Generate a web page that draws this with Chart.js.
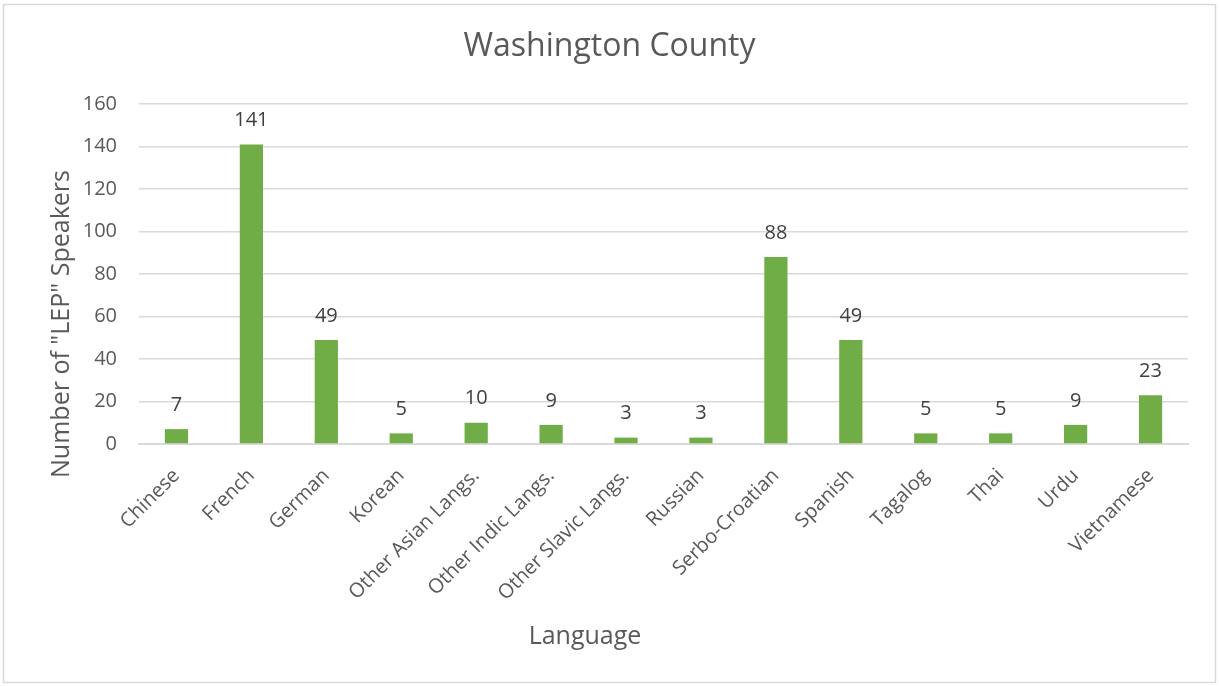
<!DOCTYPE html>
<html>
<head>
<meta charset="utf-8">
<title>Washington County</title>
<script src="https://cdn.jsdelivr.net/npm/chart.js@4"></script>
<style>
  html, body { margin: 0; padding: 0; background: #fff; }
  #wrap { width: 1219px; height: 686px; position: relative; }
</style>
</head>
<body>
<div id="wrap"><canvas id="chart" width="1219" height="686"></canvas></div>
<script>
const languages = ["Chinese", "French", "German", "Korean", "Other Asian Langs.", "Other Indic Langs.",
    "Other Slavic Langs.", "Russian", "Serbo-Croatian", "Spanish", "Tagalog", "Thai", "Urdu", "Vietnamese"];
const speakers = [7, 141, 49, 5, 10, 9, 3, 3, 88, 49, 5, 5, 9, 23];
const yTicks = [0, 20, 40, 60, 80, 100, 120, 140, 160];
const chartTitle = "Washington County";
const xTitle = "Language";
const yTitle = "Number of \"LEP\" Speakers";

const fontFamily = "'Open Sans', 'DejaVu Sans', sans-serif";
const textGray = "#595959";

// outer frame round the chart
const framePlugin = {
    id: "frame",
    beforeDraw(chart) {
        const ctx = chart.ctx;
        ctx.save();
        ctx.fillStyle = "#fff";
        ctx.fillRect(0, 0, chart.width, chart.height);
        ctx.strokeStyle = "#d9d9d9";
        ctx.lineWidth = 1.5;
        ctx.strokeRect(3.5, 4.5, 1212, 678);
        ctx.restore();
    }
};

// chart title and axis titles, centred on the whole canvas rather than the plot
const titles = {
    id: "titles",
    afterDraw(chart) {
        const ctx = chart.ctx;
        ctx.save();
        ctx.fillStyle = textGray;
        ctx.textAlign = "center";
        ctx.textBaseline = "middle";
        ctx.font = "32px " + fontFamily;
        ctx.fillText(chartTitle, 609.5, 47);
        ctx.font = "25px " + fontFamily;
        ctx.fillText(xTitle, 585, 637);
        ctx.translate(62, 324);
        ctx.rotate(-Math.PI / 2);
        ctx.fillText(yTitle, 0, 0);
        ctx.restore();
    }
};

// value written above each bar
const valueLabels = {
    id: "valueLabels",
    afterDatasetsDraw(chart) {
        const ctx = chart.ctx;
        const meta = chart.getDatasetMeta(0);
        ctx.save();
        ctx.font = "20px " + fontFamily;
        ctx.fillStyle = "#404040";
        ctx.textAlign = "center";
        ctx.textBaseline = "middle";
        meta.data.forEach(function (bar, i) {
            ctx.fillText(String(speakers[i]), bar.x, bar.y - 24);
        });
        ctx.restore();
    }
};

new Chart(document.getElementById("chart"), {
    type: "bar",
    data: {
        labels: languages,
        datasets: [{
            label: "Speakers",
            data: speakers,
            backgroundColor: "#70ad47",
            borderWidth: 0,
            barPercentage: 0.31,
            categoryPercentage: 1.0
        }]
    },
    options: {
        responsive: false,
        animation: false,
        devicePixelRatio: 1,
        layout: { padding: { left: 0, right: 31, top: 104, bottom: 0 } },
        plugins: {
            legend: { display: false },
            tooltip: { enabled: false },
            title: { display: false }
        },
        scales: {
            x: {
                grid: { display: false, drawTicks: false },
                border: { display: true, color: "#d9d9d9", width: 2 },
                ticks: {
                    color: textGray,
                    font: { family: fontFamily, size: 20 },
                    minRotation: 45,
                    maxRotation: 45,
                    autoSkip: false,
                    padding: 20
                },
                afterFit(scale) { scale.height = 242; }
            },
            y: {
                min: 0,
                max: 160,
                afterBuildTicks(scale) {
                    scale.ticks = yTicks.map(v => ({ value: v }));
                },
                grid: { color: "#d9d9d9", lineWidth: 1.5, drawTicks: false },
                border: { display: false },
                ticks: {
                    color: textGray,
                    font: { family: fontFamily, size: 20 },
                    padding: 22
                },
                afterFit(scale) { scale.width = 139; }
            }
        }
    },
    plugins: [framePlugin, valueLabels, titles]
});
</script>
</body>
</html>
